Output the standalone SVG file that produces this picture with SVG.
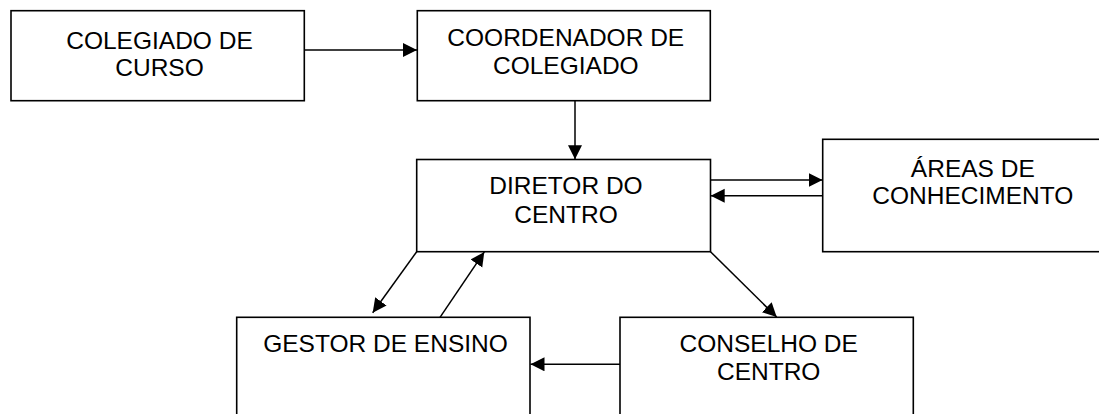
<svg xmlns="http://www.w3.org/2000/svg" width="1099" height="414" viewBox="0 0 1099 414">
<style>
.box{fill:#fff;stroke:#000;stroke-width:1.6}
.t{font-family:"Liberation Sans",Arial,sans-serif;font-size:24.5px;fill:#000;text-anchor:middle}
.c{stroke:#000;stroke-width:1.5;fill:none;marker-end:url(#ah)}
</style>
<defs>
<marker id="ah" markerUnits="userSpaceOnUse" markerWidth="15" markerHeight="15" refX="14" refY="7" orient="auto">
<path d="M0,0 L14,7 L0,14 z" fill="#000"/>
</marker>
</defs>
<rect width="1099" height="414" fill="#fff"/>
<g id="colegiado">
<rect class="box" x="11" y="10.7" width="293.3" height="90"/>
<text class="t" x="159.5" y="49">COLEGIADO DE</text>
<text class="t" x="159.5" y="76">CURSO</text>
</g>
<g id="coordenador">
<rect class="box" x="417.3" y="10.7" width="293" height="90"/>
<text class="t" x="565.8" y="45.7">COORDENADOR DE</text>
<text class="t" x="565.8" y="74">COLEGIADO</text>
</g>
<g id="diretor">
<rect class="box" x="416.7" y="159.5" width="293.8" height="92.2"/>
<text class="t" x="566" y="194.3">DIRETOR DO</text>
<text class="t" x="566" y="223">CENTRO</text>
</g>
<g id="areas">
<rect class="box" x="822.7" y="139.3" width="300" height="112.4"/>
<text class="t" x="972.8" y="176.7">ÁREAS DE</text>
<text class="t" x="972.8" y="204.3">CONHECIMENTO</text>
</g>
<g id="gestor">
<rect class="box" x="236.7" y="317.3" width="293.3" height="120"/>
<text class="t" x="385.5" y="351.7">GESTOR DE ENSINO</text>
</g>
<g id="conselho">
<rect class="box" x="620" y="317.3" width="293.3" height="120"/>
<text class="t" x="768.7" y="352.3">CONSELHO DE</text>
<text class="t" x="768.7" y="380">CENTRO</text>
</g>
<g id="connectors">
<line class="c" x1="304.3" y1="50" x2="417" y2="50"/>
<line class="c" x1="575" y1="100.7" x2="575" y2="159.3"/>
<line class="c" x1="710.5" y1="180" x2="822.5" y2="180"/>
<line class="c" x1="822.5" y1="195.7" x2="710.7" y2="195.7"/>
<line class="c" x1="416.7" y1="251.7" x2="372.7" y2="312.7"/>
<line class="c" x1="440" y1="317.3" x2="484.3" y2="251.9"/>
<line class="c" x1="710.5" y1="251.7" x2="776.7" y2="317.1"/>
<line class="c" x1="620" y1="364.3" x2="530.5" y2="364.3"/>
</g>
</svg>
